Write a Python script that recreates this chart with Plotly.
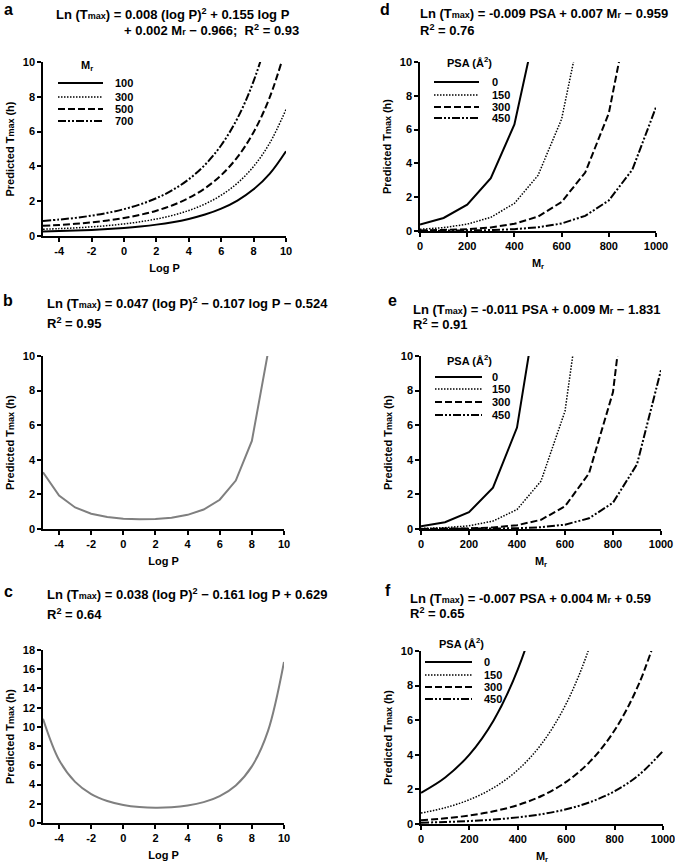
import plotly.graph_objects as go
from plotly.subplots import make_subplots

W, H = 675, 866
FONT = "Liberation Sans, Arial, sans-serif"

# ---------------- data ----------------
logp = [-5, -4, -3, -2, -1, 0, 1, 2, 3, 4, 5, 6, 7, 8, 9, 10]
mr_levels = ["100", "300", "500", "700"]
a_mr100 = [0.262, 0.284, 0.314, 0.352, 0.401, 0.465, 0.547, 0.654, 0.795, 0.982, 1.232, 1.572, 2.036, 2.681, 3.586, 4.874]
a_mr300 = [0.390, 0.424, 0.468, 0.525, 0.599, 0.694, 0.816, 0.976, 1.186, 1.465, 1.839, 2.344, 3.037, 3.999, 5.350, 7.271]
a_mr500 = [0.582, 0.633, 0.698, 0.783, 0.893, 1.035, 1.218, 1.456, 1.770, 2.186, 2.743, 3.497, 4.531, 5.966, 7.981, 10.847]
a_mr700 = [0.869, 0.944, 1.042, 1.169, 1.332, 1.544, 1.817, 2.173, 2.640, 3.261, 4.092, 5.218, 6.760, 8.900, 11.906, 16.18]

logp_b = [-5, -4, -3, -2, -1, 0, 1, 2, 3, 4, 5, 6, 7, 8, 9]
b_tmax = [3.274, 1.927, 1.246, 0.885, 0.691, 0.592, 0.558, 0.577, 0.656, 0.819, 1.123, 1.692, 2.801, 5.094, 10.18]

c_tmax = [10.85, 6.560, 4.280, 3.013, 2.289, 1.876, 1.659, 1.582, 1.629, 1.809, 2.168, 2.804, 3.912, 5.889, 9.564, 16.76]

logp_ticks = [-4, -2, 0, 2, 4, 6, 8, 10]
logp_ticklabels = ["-4", "-2", "0", "2", "4", "6", "8", "10"]

mr = [0, 100, 200, 300, 400, 500, 600, 700, 800, 900, 1000]
psa_levels = ["0", "150", "300", "450"]
d_psa0 = [0.383, 0.772, 1.554, 3.130, 6.303, 12.69, 25.6, 51.5, 103.7, 208.9, 420.6]
d_psa150 = [0.0994, 0.200, 0.403, 0.811, 1.634, 3.290, 6.625, 13.34, 26.9, 54.1, 109.0]
d_psa300 = [0.0258, 0.0519, 0.104, 0.210, 0.424, 0.853, 1.718, 3.459, 6.965, 14.03, 28.3]
d_psa450 = [0.0067, 0.0135, 0.0271, 0.0545, 0.110, 0.221, 0.445, 0.897, 1.806, 3.636, 7.323]

e_psa0 = [0.160, 0.394, 0.970, 2.385, 5.865, 14.42, 35.5, 87.3, 214.7, 528.0, 1298.0]
e_psa150 = [0.0308, 0.0757, 0.186, 0.458, 1.126, 2.769, 6.811, 16.75, 41.2, 101.4, 249.3]
e_psa300 = [0.0059, 0.0145, 0.0358, 0.0880, 0.216, 0.532, 1.308, 3.217, 7.913, 19.46, 47.9]
e_psa450 = [0.0011, 0.0028, 0.0069, 0.0169, 0.0415, 0.102, 0.251, 0.618, 1.520, 3.738, 9.194]

f_psa0 = [1.804, 2.691, 4.015, 5.989, 8.935, 13.33, 19.9, 29.7, 44.3, 66.1, 98.6]
f_psa150 = [0.631, 0.942, 1.405, 2.096, 3.126, 4.664, 6.958, 10.38, 15.5, 23.1, 34.5]
f_psa300 = [0.221, 0.330, 0.492, 0.733, 1.094, 1.632, 2.435, 3.632, 5.419, 8.084, 12.06]
f_psa450 = [0.0773, 0.115, 0.172, 0.257, 0.383, 0.571, 0.852, 1.271, 1.896, 2.829, 4.220]

# ---------------- figure ----------------
fig = make_subplots(rows=3, cols=2)

styles = [
    dict(color="black", width=2, dash="solid"),
    dict(color="black", width=1.5, dash="1.5px,1.5px"),
    dict(color="black", width=2, dash="7px,3px"),
    dict(color="black", width=2, dash="8px,2px,2px,2px,2px,2px"),
]

def add_group(xs, series, names, row, col, shape="linear"):
    for ys, nm, st in zip(series, names, styles):
        fig.add_trace(go.Scatter(x=xs, y=ys, mode="lines", name=nm, line=dict(st, shape=shape),
                                 showlegend=False), row=row, col=col)

add_group(logp, [a_mr100, a_mr300, a_mr500, a_mr700], mr_levels, 1, 1, "spline")
add_group(mr, [d_psa0, d_psa150, d_psa300, d_psa450], psa_levels, 1, 2)
fig.add_trace(go.Scatter(x=logp_b, y=b_tmax, mode="lines", line=dict(color="#7f7f7f", width=2),
                         showlegend=False), row=2, col=1)
add_group(mr, [e_psa0, e_psa150, e_psa300, e_psa450], psa_levels, 2, 2)
fig.add_trace(go.Scatter(x=logp, y=c_tmax, mode="lines", line=dict(color="#7f7f7f", width=2, shape="spline"),
                         showlegend=False), row=3, col=1)
add_group(mr, [f_psa0, f_psa150, f_psa300, f_psa450], psa_levels, 3, 2, "spline")

def px_x(p):
    return p / W

def px_y(p):
    return 1 - p / H

# plot areas in pixels: (x0, x1, ytop, ybottom)
areas = {
    1: (43, 286, 62, 236),
    2: (420, 656, 62, 231),
    3: (43, 284, 356, 529),
    4: (421, 661, 356, 529),
    5: (43, 284, 650, 823),
    6: (421, 663, 651, 824),
}

tickfont = dict(family=FONT, size=11, color="black", weight="bold")
titlefont = dict(family=FONT, size=11, color="black", weight="bold")
ytitle = "Predicted T<span style='font-size:9px'>max</span> (h)"

for i, (x0, x1, yt, yb) in areas.items():
    sfx = "" if i == 1 else str(i)
    logax = i in (1, 3, 5)
    xa = dict(domain=[px_x(x0), px_x(x1)], showline=True, linecolor="black", linewidth=1.5,
              ticks="outside", ticklen=4, tickcolor="black", tickwidth=1.5, showgrid=False, zeroline=False,
              tickfont=tickfont, automargin=False, ticklabeloverflow="allow",
              title=dict(text="Log P" if logax else "M<sub>r</sub>", font=titlefont, standoff=8))
    if logax:
        xa.update(range=[-5, 10], tickvals=logp_ticks, ticktext=logp_ticklabels)
    else:
        xa.update(range=[0, 1000], tickvals=[0, 200, 400, 600, 800, 1000])
    ya = dict(domain=[px_y(yb), px_y(yt)], showline=True, linecolor="black", linewidth=1.5,
              ticks="outside", ticklen=4, tickcolor="black", tickwidth=1.5, showgrid=False, zeroline=False,
              tickfont=tickfont, automargin=False, ticklabeloverflow="allow",
              title=dict(text=ytitle, font=titlefont, standoff=6))
    if i == 5:
        ya.update(range=[0, 18], tickvals=[0, 2, 4, 6, 8, 10, 12, 14, 16, 18])
    else:
        ya.update(range=[0, 10], tickvals=[0, 2, 4, 6, 8, 10])
    fig.layout["xaxis" + sfx].update(xa)
    fig.layout["yaxis" + sfx].update(ya)

annotations = []

def text(x, y, s, size=13, anchor="left"):
    annotations.append(dict(x=px_x(x), y=px_y(y), xref="paper", yref="paper", text=s, showarrow=False,
                            xanchor=anchor, yanchor="middle",
                            font=dict(family=FONT, size=size, color="black", weight="bold")))

TM = "T<span style='font-size:9px'>max</span>"
MR = "M<span style='font-size:9px'>r</span>"

# panel letters
text(2, 10, "a", 16)
text(378, 10, "d", 16)
text(1, 301, "b", 16)
text(386, 300, "e", 16)
text(2, 591, "c", 16)
text(383, 590, "f", 16)

# equations
text(54, 14, f"Ln ({TM}) = 0.008 (log P)<sup>2</sup> + 0.155 log P")
text(122, 30, f"+ 0.002 {MR} − 0.966;  R<sup>2</sup> = 0.93")
text(418, 14, f"Ln ({TM}) = -0.009 PSA + 0.007 {MR} − 0.959")
text(418, 30, "R<sup>2</sup> = 0.76")
text(45, 303, f"Ln ({TM}) = 0.047 (log P)<sup>2</sup> − 0.107 log P − 0.524")
text(45, 323, "R<sup>2</sup> = 0.95")
text(411, 310, f"Ln ({TM}) = -0.011 PSA + 0.009 {MR} − 1.831")
text(411, 324, "R<sup>2</sup> = 0.91")
text(45, 594, f"Ln ({TM}) = 0.038 (log P)<sup>2</sup> − 0.161 log P + 0.629")
text(45, 614, "R<sup>2</sup> = 0.64")
text(408, 598, f"Ln ({TM}) = -0.007 PSA + 0.004 {MR} + 0.59")
text(408, 613, "R<sup>2</sup> = 0.65")

# legends (header center, rows y, key x0, x1, label x)
shapes = []
legends = [
    ("M<sub>r</sub>", (87, 66), [83, 97, 109, 121], 58, 103, 113, mr_levels),
    ("PSA (Å<sup>2</sup>)", (469, 62), [82, 95, 107, 118], 434, 479, 490, psa_levels),
    ("PSA (Å<sup>2</sup>)", (469, 360), [377, 389, 402, 415], 435, 482, 490, psa_levels),
    ("PSA (Å<sup>2</sup>)", (461, 643), [662, 675, 687, 699], 425, 472, 482, psa_levels),
]
for head, (hx, hy), rows, k0, k1, lx, labels in legends:
    text(hx, hy, head, 11, "center")
    for ry, lab, st in zip(rows, labels, styles):
        shapes.append(dict(type="line", xref="paper", yref="paper", x0=px_x(k0), x1=px_x(k1),
                           y0=px_y(ry), y1=px_y(ry), line=st))
        text(lx, ry, lab, 11)

fig.update_layout(width=W, height=H, margin=dict(l=0, r=0, t=0, b=0), plot_bgcolor="white",
                  paper_bgcolor="white", showlegend=False, annotations=annotations, shapes=shapes,
                  font=dict(family=FONT, color="black"))

fig.write_html("out.html", config={"displayModeBar": False},
               post_script="document.body.style.margin='0';document.body.style.overflow='hidden';")
